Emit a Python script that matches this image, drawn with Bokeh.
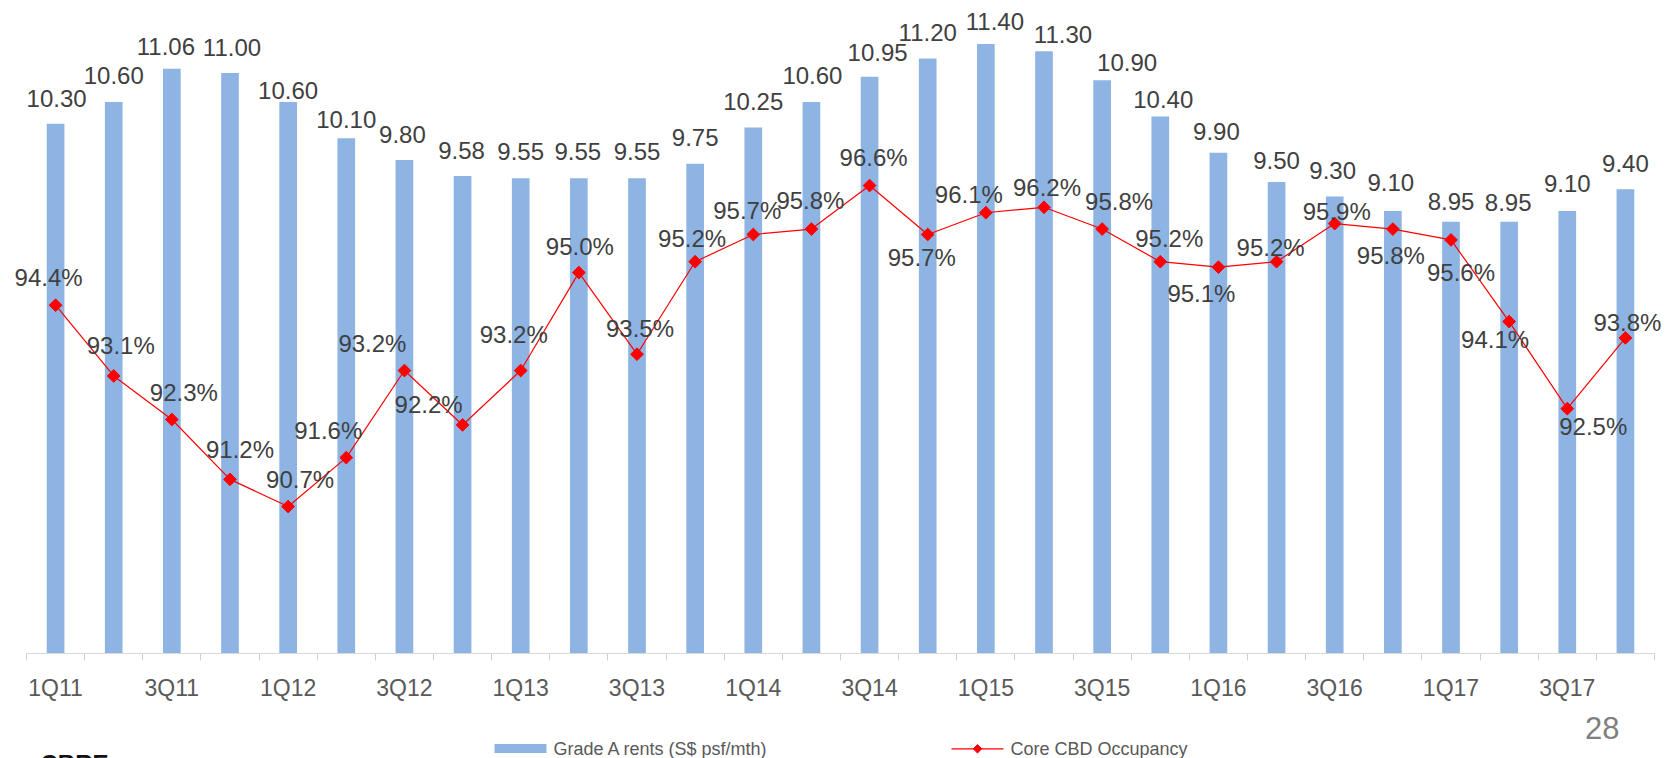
import numpy as np
from bokeh.plotting import figure
from bokeh.models import Range1d, LinearAxis, FixedTicker, ColumnDataSource
from bokeh.layouts import column
from bokeh.embed import file_html
from bokeh.resources import INLINE
from bokeh.core.properties import value

# ---------------- data ----------------
quarters = ["1Q11", "2Q11", "3Q11", "4Q11", "1Q12", "2Q12", "3Q12", "4Q12",
            "1Q13", "2Q13", "3Q13", "4Q13", "1Q14", "2Q14", "3Q14", "4Q14",
            "1Q15", "2Q15", "3Q15", "4Q15", "1Q16", "2Q16", "3Q16", "4Q16",
            "1Q17", "2Q17", "3Q17", "4Q17"]
rents = [10.30, 10.60, 11.06, 11.00, 10.60, 10.10, 9.80, 9.58,
         9.55, 9.55, 9.55, 9.75, 10.25, 10.60, 10.95, 11.20,
         11.40, 11.30, 10.90, 10.40, 9.90, 9.50, 9.30, 9.10,
         8.95, 8.95, 9.10, 9.40]
occupancy = [94.4, 93.1, 92.3, 91.2, 90.7, 91.6, 93.2, 92.2,
             93.2, 95.0, 93.5, 95.2, 95.7, 95.8, 96.6, 95.7,
             96.1, 96.2, 95.8, 95.2, 95.1, 95.2, 95.9, 95.8,
             95.6, 94.1, 92.5, 93.8]
rent_labels = [f"{v:.2f}" for v in rents]
occ_labels = [f"{v:.1f}%" for v in occupancy]

# -------------- label placement (screen px offsets) --------------
rent_dx = [1, 0, -6, 2, 0, 0, -2, -1, 0, -1, 0, 0, 0, 1, 8, 0, 9, 19, 25, 3, -2, 0, -2, -2, 0, -1, 0, 0]
rent_dy = [-25, -27, -22, -26, -12, -19, -26, -26, -27, -27, -27, -26, -26, -27, -24, -26,
           -23, -17, -18, -17, -21, -21, -26, -28, -20, -19, -27, -26]
occ_dx = [-7, 7, 12, 10, 12, -18, -32, -34, -7, 1, 3, -3, -6, -1, 4, -6,
          -17, 3, 17, 9, -17, -6, 2, -2, 10, -14, 26, 2]
occ_dy = [-28, -30, -27, -30, -27, -27, -27, -20, -36, -26, -26, -23, -24, -29, -28, 23,
          -18, -20, -28, -23, 26, -14, -12, 26, 33, 18, 18, -15]

n = len(quarters)
xc = [i + 0.5 for i in range(n)]

src = ColumnDataSource(dict(x=xc, rent=rents, occ=occupancy, rl=rent_labels, ol=occ_labels,
                            rdx=rent_dx, rdy=rent_dy, odx=occ_dx, ody=occ_dy))

W, H_MAIN, H_FOOT = 1666, 705, 53
AX_LEFT, AX_RIGHT = 26, 1654          # pixel extent of the category axis
unit = (AX_RIGHT - AX_LEFT) / n
FONT = value("Liberation Sans")
BAR = "#8EB4E3"
RED = "#FF0000"

p = figure(width=W, height=H_MAIN, output_backend="svg", toolbar_location=None,
           x_range=Range1d(-AX_LEFT / unit, n + (W - AX_RIGHT) / unit), y_range=Range1d(3, 12),
           x_axis_type=None, y_axis_type=None,
           min_border_left=0, min_border_right=0, min_border_top=0, min_border_bottom=52)
p.outline_line_color = None
p.extra_y_ranges = {"occ": Range1d(88, 100)}

xaxis = LinearAxis(
    bounds=(0, n),
    ticker=FixedTicker(ticks=[xc[i] for i in range(0, n, 2)], minor_ticks=list(range(n + 1))),
    major_label_overrides={xc[i]: quarters[i] for i in range(0, n, 2)})
xaxis.axis_line_color = "#d9d9d9"
xaxis.major_tick_line_color = None
xaxis.major_tick_out = 0
xaxis.major_tick_in = 0
xaxis.minor_tick_line_color = "#d0d0d0"
xaxis.minor_tick_out = 7
xaxis.minor_tick_in = 0
xaxis.major_label_standoff = 14
xaxis.major_label_text_font = "Liberation Sans"
xaxis.major_label_text_font_size = "23px"
xaxis.major_label_text_color = "#595959"
p.add_layout(xaxis, "below")

p.vbar(x="x", top="rent", bottom=3, width=0.304, source=src, fill_color=BAR, line_color=None)
p.line(x="x", y="occ", source=src, y_range_name="occ", line_color=RED, line_width=1.2)
p.scatter(x="x", y="occ", source=src, y_range_name="occ", marker="square", angle=np.pi / 4,
          size=9, fill_color=RED, line_color=RED)

p.text(x="x", y="rent", text="rl", source=src, x_offset="rdx", y_offset="rdy",
       text_align="center", text_baseline="middle", text_font=FONT,
       text_font_size="24px", text_color="#404040")
p.text(x="x", y="occ", text="ol", source=src, y_range_name="occ", x_offset="odx", y_offset="ody",
       text_align="center", text_baseline="middle", text_font=FONT,
       text_font_size="24px", text_color="#404040")

# ---------------- footer: legend, page number, source ----------------
f = figure(width=W, height=H_FOOT, output_backend="svg", toolbar_location=None,
           x_range=Range1d(0, W), y_range=Range1d(758, 705),
           x_axis_type=None, y_axis_type=None, min_border=0)
f.outline_line_color = None
f.quad(left=[494], right=[546], top=[743.5], bottom=[752.5], fill_color=BAR, line_color=None)
f.line(x=[951, 1003], y=[748.3, 748.3], line_color=RED, line_width=1.2)
f.scatter(x=[977], y=[748.3], marker="square", angle=np.pi / 4, size=6,
          fill_color=RED, line_color=RED)
f.text(x=[553], y=[748], text=["Grade A rents (S$ psf/mth)"], text_align="left",
       text_baseline="middle", text_font=FONT, text_font_size="18px", text_color="#595959")
f.text(x=[1010], y=[748], text=["Core CBD Occupancy"], text_align="left",
       text_baseline="middle", text_font=FONT, text_font_size="18px", text_color="#595959")
f.text(x=[1601.7], y=[727], text=["28"], text_align="center", text_baseline="middle",
       text_font=FONT, text_font_size="31px", text_color="#808080")
f.text(x=[40], y=[749.5], text=["CBRE"], text_align="left", text_baseline="top",
       text_font=FONT, text_font_size="24px", text_font_style="bold", text_color="#111111")

layout = column(p, f, spacing=0)
open("out.html", "w").write(file_html(layout, INLINE))
